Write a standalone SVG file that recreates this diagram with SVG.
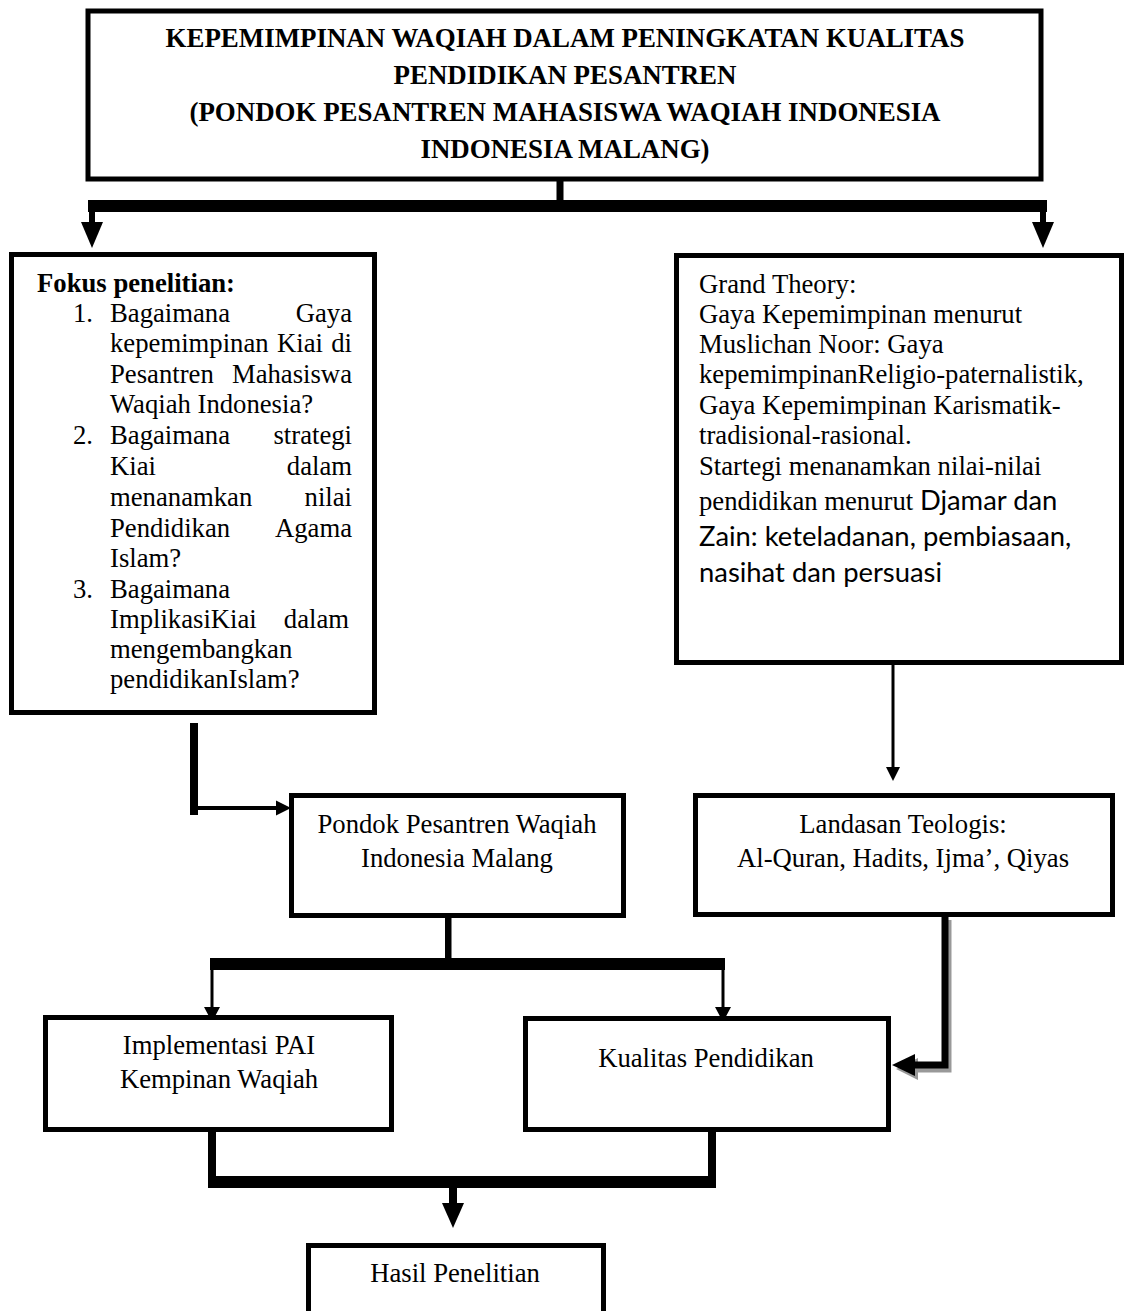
<svg xmlns="http://www.w3.org/2000/svg" width="1124" height="1311" viewBox="0 0 1124 1311">
<style>
.box{fill:#fff;stroke:#000;stroke-width:5}
.t{font-family:"Liberation Serif","Times New Roman",serif;font-size:26.7px;fill:#000}
.tb{font-family:"Liberation Serif","Times New Roman",serif;font-size:26.9px;font-weight:bold;fill:#000}
.c{text-anchor:middle}
.e{text-anchor:end}
.s{font-family:Lato,"Liberation Sans",sans-serif;font-size:27.4px}
.k{fill:#000}
.ln{stroke:#000;fill:none}
</style>
<rect width="1124" height="1311" fill="#fff"/>

<g id="connectors">
  <rect class="k" x="556.5" y="165" width="7" height="40"/>
  <rect class="k" x="88" y="200" width="959" height="12"/>
  <rect class="k" x="89" y="211" width="6" height="13"/>
  <polygon class="k" points="81,222 103,222 92,248"/>
  <rect class="k" x="1040" y="211" width="6" height="13"/>
  <polygon class="k" points="1032,222 1054,222 1043,248"/>
  <rect class="k" x="190" y="723" width="8" height="92"/>
  <line class="ln" x1="198" y1="808" x2="278" y2="808" stroke-width="4"/>
  <polygon class="k" points="276,800.5 291,808 276,815.5"/>
  <line class="ln" x1="893" y1="665" x2="893" y2="770" stroke-width="3"/>
  <polygon class="k" points="886,767 900,767 893,781"/>
  <rect class="k" x="445" y="917" width="6.5" height="43"/>
  <rect class="k" x="210" y="958" width="515" height="12"/>
  <line class="ln" x1="212" y1="970" x2="212" y2="1010" stroke-width="3"/>
  <polygon class="k" points="204,1007 220,1007 212,1022"/>
  <line class="ln" x1="723" y1="970" x2="723" y2="1010" stroke-width="3"/>
  <polygon class="k" points="715,1007 731,1007 723,1022"/>
  <path d="M948 920 V1069 H915" stroke="#999" stroke-width="7" fill="none"/>
  <polygon points="896,1069 918,1058 918,1080" fill="#999"/>
  <path d="M945 917 V1065 H912" class="ln" stroke-width="7"/>
  <polygon class="k" points="892,1065 915,1054 915,1076"/>
  <rect class="k" x="208" y="1131" width="8" height="57"/>
  <rect class="k" x="708" y="1131" width="8" height="57"/>
  <rect class="k" x="208" y="1176" width="508" height="12"/>
  <rect class="k" x="449" y="1187" width="8" height="18"/>
  <polygon class="k" points="442,1203 464,1203 453,1228"/>
</g>

<g id="title">
  <rect class="box" x="88" y="11" width="953" height="168" stroke-width="6"/>
  <text class="tb c" x="565" y="47">KEPEMIMPINAN WAQIAH DALAM PENINGKATAN KUALITAS</text>
  <text class="tb c" x="565" y="84">PENDIDIKAN PESANTREN</text>
  <text class="tb c" x="565" y="121">(PONDOK PESANTREN MAHASISWA WAQIAH INDONESIA</text>
  <text class="tb c" x="565" y="158">INDONESIA MALANG)</text>
</g>

<g id="fokus">
  <rect class="box" x="11.5" y="254.5" width="363" height="458"/>
  <text class="t" x="37" y="292" font-weight="bold">Fokus penelitian:</text>
  <text class="t" x="73" y="322">1.</text>
  <text class="t" x="110" y="322">Bagaimana</text><text class="t e" x="352" y="322">Gaya</text>
  <text class="t" x="110" y="352">kepemimpinan</text><text class="t" x="277" y="352">Kiai</text><text class="t e" x="352" y="352">di</text>
  <text class="t" x="110" y="383">Pesantren</text><text class="t e" x="352" y="383">Mahasiswa</text>
  <text class="t" x="110" y="413">Waqiah Indonesia?</text>
  <text class="t" x="73" y="444">2.</text>
  <text class="t" x="110" y="444">Bagaimana</text><text class="t e" x="352" y="444">strategi</text>
  <text class="t" x="110" y="475">Kiai</text><text class="t e" x="352" y="475">dalam</text>
  <text class="t" x="110" y="506">menanamkan</text><text class="t e" x="352" y="506">nilai</text>
  <text class="t" x="110" y="537">Pendidikan</text><text class="t e" x="352" y="537">Agama</text>
  <text class="t" x="110" y="567">Islam?</text>
  <text class="t" x="73" y="598">3.</text>
  <text class="t" x="110" y="598">Bagaimana</text>
  <text class="t" x="110" y="628">ImplikasiKiai</text><text class="t e" x="349" y="628">dalam</text>
  <text class="t" x="110" y="658">mengembangkan</text>
  <text class="t" x="110" y="688">pendidikanIslam?</text>
</g>

<g id="grand-theory">
  <rect class="box" x="676.5" y="255.5" width="445" height="407"/>
  <text class="t" x="699" y="293">Grand Theory:</text>
  <text class="t" x="699" y="323">Gaya Kepemimpinan menurut</text>
  <text class="t" x="699" y="353">Muslichan Noor: Gaya</text>
  <text class="t" x="699" y="383">kepemimpinanReligio-paternalistik,</text>
  <text class="t" x="699" y="414">Gaya Kepemimpinan Karismatik-</text>
  <text class="t" x="699" y="444">tradisional-rasional.</text>
  <text class="t" x="699" y="475">Startegi menanamkan nilai-nilai</text>
  <text class="t" x="699" y="510">pendidikan menurut <tspan class="s">Djamar dan</tspan></text>
  <text class="t s" x="699" y="546">Zain: keteladanan, pembiasaan,</text>
  <text class="t s" x="699" y="582">nasihat dan persuasi</text>
</g>

<g id="pondok">
  <rect class="box" x="291.5" y="795.5" width="332" height="120"/>
  <text class="t c" x="457" y="833">Pondok Pesantren Waqiah</text>
  <text class="t c" x="457" y="867">Indonesia Malang</text>
</g>

<g id="landasan">
  <rect class="box" x="695.5" y="795.5" width="417" height="119"/>
  <text class="t c" x="903" y="833">Landasan Teologis:</text>
  <text class="t c" x="903" y="867">Al-Quran, Hadits, Ijma’, Qiyas</text>
</g>

<g id="implementasi">
  <rect class="box" x="45.5" y="1017.5" width="346" height="112"/>
  <text class="t c" x="219" y="1054">Implementasi PAI</text>
  <text class="t c" x="219" y="1088">Kempinan Waqiah</text>
</g>

<g id="kualitas">
  <rect class="box" x="525.5" y="1018.5" width="363" height="111"/>
  <text class="t c" x="706" y="1067">Kualitas Pendidikan</text>
</g>

<g id="hasil">
  <rect class="box" x="308.5" y="1245.5" width="295" height="100"/>
  <text class="t c" x="455" y="1282">Hasil Penelitian</text>
</g>
</svg>
